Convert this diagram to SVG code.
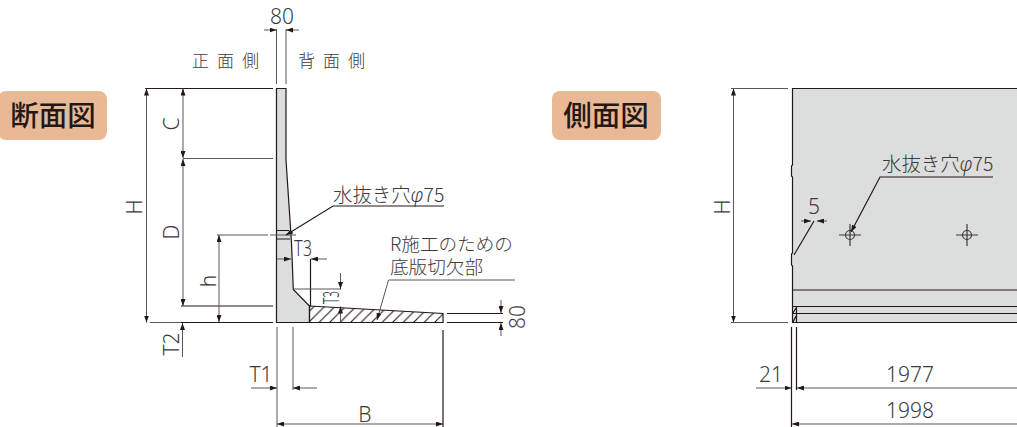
<svg xmlns="http://www.w3.org/2000/svg" width="1017" height="427" viewBox="0 0 1017 427">
<style>
text{font-family:"Noto Sans","Noto Sans CJK JP",sans-serif;font-size:21px;fill:#3e3a39;font-weight:300}
.j{font-family:"Noto Sans CJK JP",sans-serif;font-size:18.600px;font-weight:300}
.w{font-size:19.400px}
.s{font-size:17px;letter-spacing:8px}
.b{font-family:"Noto Sans CJK JP",sans-serif;font-size:28.500px;font-weight:500;fill:#231815}
.m{text-anchor:middle}
.d{fill:none;stroke:#595757;stroke-width:1}
.k{fill:none;stroke:#231815;stroke-width:1.200}
.o{fill:#dcdddd;stroke:#231815;stroke-width:1.200}
.c{fill:none;stroke:#3e3a39;stroke-width:1.200}
.badge{fill:#e9b996}
</style>
<defs>
<marker id="a" viewBox="0 0 7 5" refX="7" refY="2.500" markerWidth="7" markerHeight="5" markerUnits="userSpaceOnUse" orient="auto-start-reverse"><path d="M0 0L7 2.500L0 5Z" fill="#231815"/></marker>
<pattern id="h" width="10.500" height="10.500" patternUnits="userSpaceOnUse" patternTransform="translate(309 322)"><path d="M-1 11.500L11.500 -1M-1 1L1 -1M9.500 11.500L11.500 9.500" stroke="#231815" stroke-width="1.100"/></pattern>
</defs>
<g id="badge-section"><rect class="badge" x="-2" y="91" width="109" height="49" rx="8"/><text class="b m" x="53" y="126">断面図</text></g>
<g id="badge-side"><rect class="badge" x="552" y="91" width="109" height="49" rx="8"/><text class="b m" x="606" y="126">側面図</text></g>
<g id="section">
<path class="o" d="M276.500 88.500H286V160L291.500 243L293.300 289.500L309.500 306V322.500H276.500Z"/>
<path d="M309.500 306L443 313.500V322.500H309.500Z" fill="url(#h)" stroke="#231815" stroke-width="1.200"/>
<path class="k" d="M277 230.500H289M277 239H290"/>
</g>
<g id="side">
<path fill="#dcdddd" d="M792 88.500H1017V322.500H792Z"/>
<path class="k" d="M1017 88.500H792.500V165L791.500 166V176L792.500 177V253L791.500 254V265L792.500 266V322.500H1017M793 290H1017M793 306.500H1017M793 313.500H1017M796.500 306.500V322.500M793 313L796 308M793 322L796 316"/>
<g id="hole1"><circle class="c" cx="850" cy="235" r="4.500"/><path class="c" d="M839 235H861M850 224V246"/></g>
<g id="hole2"><circle class="c" cx="967" cy="235" r="4.500"/><path class="c" d="M956 235H978M967 224V246"/></g>
</g>
<g id="connectors">
<path class="d" d="M276.500 29V84M286 29V84"/>
<path class="d" d="M264 30H276.500" marker-end="url(#a)"/><path class="d" d="M299 30H286" marker-end="url(#a)"/>
<path class="k" d="M145 88.500H273M181 322.500H273M181 306H273"/>
<path class="d" d="M183 158.500H273M217 235H268M270 235H296M150 322.500H181"/>
<path class="d" d="M146.500 88.500V322.500" marker-start="url(#a)" marker-end="url(#a)"/>
<path class="d" d="M183 88.500V158" marker-start="url(#a)" marker-end="url(#a)"/>
<path class="d" d="M183 159V306" marker-start="url(#a)" marker-end="url(#a)"/>
<path class="d" d="M182.500 357V323" marker-end="url(#a)"/>
<path class="d" d="M219 235V322" marker-start="url(#a)" marker-end="url(#a)"/>
<path class="d" d="M277 259H291" marker-end="url(#a)"/>
<path class="d" d="M327 259H311" marker-end="url(#a)"/>
<path class="k" d="M310.500 259V306"/>
<path class="d" d="M293.500 289H341"/>
<path class="d" d="M340.500 273V289" marker-end="url(#a)"/>
<path class="d" d="M340.500 322V306.500" marker-end="url(#a)"/>
<path class="d" d="M277 327V427M293 327V390"/>
<path class="d" d="M251 388H277" marker-end="url(#a)"/>
<path class="d" d="M317 388H293" marker-end="url(#a)"/>
<path class="d" d="M277 424H443" marker-start="url(#a)" marker-end="url(#a)"/>
<path class="k" d="M443 330V427M447 313.500H503M447 322.500H503"/>
<path class="d" d="M501 300V313" marker-end="url(#a)"/>
<path class="d" d="M501 336V323" marker-end="url(#a)"/>
<path class="k" d="M444 206H333L286 235" marker-end="url(#a)"/>
<path class="d" d="M515 280H388.500L377 320" marker-end="url(#a)"/>
<path class="d" d="M731 88.500H788M731 322.500H788"/>
<path class="d" d="M733.500 88.500V322.500" marker-start="url(#a)" marker-end="url(#a)"/>
<path class="k" d="M993 177H880L851 232" marker-end="url(#a)"/>
<path class="k" d="M794 255L814 221"/>
<path class="d" d="M801 221H811" marker-end="url(#a)"/>
<path class="d" d="M827 221H817" marker-end="url(#a)"/>
<path class="k" d="M791.500 327V427M796.500 327V390"/>
<path class="d" d="M756 388H791.500" marker-end="url(#a)"/>
<path class="d" d="M1017 388H797" marker-end="url(#a)"/>
<path class="d" d="M1017 424H792" marker-end="url(#a)"/>
</g>
<g id="labels">
<text class="m" x="282" y="24">80</text>
<text class="j s" x="192" y="67">正面側</text>
<text class="j s" x="298" y="67">背面側</text>
<text class="m" transform="translate(142 207) rotate(-90)">H</text>
<text class="m" transform="translate(179 124) rotate(-90)">C</text>
<text class="m" transform="translate(179 232) rotate(-90)">D</text>
<text class="m" transform="translate(216 281) rotate(-90)">h</text>
<text class="m" transform="translate(179 344) rotate(-90)">T2</text>
<text class="m" x="261" y="382">T1</text>
<text x="294" y="256" textLength="18" lengthAdjust="spacingAndGlyphs">T3</text>
<text transform="translate(339 304) rotate(-90)" textLength="13" lengthAdjust="spacingAndGlyphs">T3</text>
<text class="m" x="365" y="422">B</text>
<text class="m" transform="translate(525 317) rotate(-90)">80</text>
<text class="j w" x="333" y="202">水抜き穴<tspan font-style="italic" font-family="Noto Sans">φ</tspan>75</text>
<text class="j" x="390" y="251">R施工のための</text>
<text class="j" x="390" y="274">底版切欠部</text>
<text class="j w" x="882" y="171">水抜き穴<tspan font-style="italic" font-family="Noto Sans">φ</tspan>75</text>
<text class="m" x="814" y="214">5</text>
<text class="m" x="771" y="382">21</text>
<text class="m" x="910" y="382">1977</text>
<text class="m" x="910" y="418">1998</text>
<text class="m" transform="translate(730 207) rotate(-90)">H</text>
</g>
</svg>
